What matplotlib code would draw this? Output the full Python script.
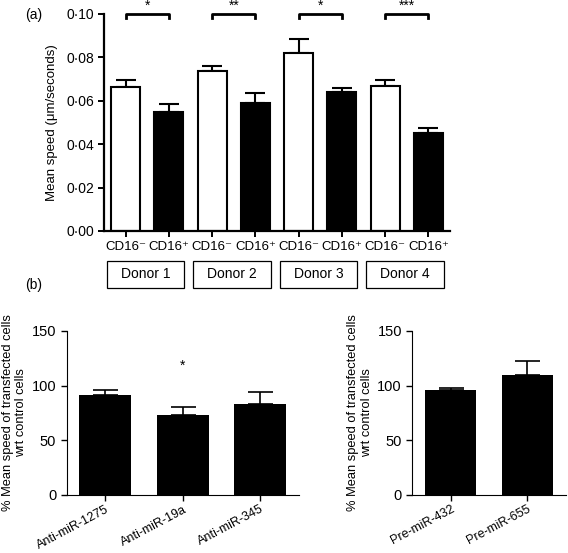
import numpy as np
import matplotlib
matplotlib.use("Agg")
import matplotlib.pyplot as plt
from matplotlib.patches import Rectangle
import matplotlib.transforms as mtransforms

plt.rcParams['font.family'] = ['Liberation Sans', 'DejaVu Sans']
plt.rcParams['font.size'] = 9

# panel (a): mean speed per donor, CD16- (white) / CD16+ (black)
donors = ["Donor 1", "Donor 2", "Donor 3", "Donor 4"]
cell_labels = ["CD16\u207b", "CD16\u207a"]
speed_neg = [0.0665, 0.0739, 0.0819, 0.0668]
err_neg = [0.0031, 0.0020, 0.0064, 0.0028]
speed_pos = [0.0550, 0.0591, 0.0642, 0.0453]
err_pos = [0.0037, 0.0045, 0.0018, 0.0020]
sig_a = ["*", "**", "*", "***"]

# panel (b): % mean speed of transfected cells
anti_names = ["Anti-miR-1275", "Anti-miR-19a", "Anti-miR-345"]
anti_vals = [91.3, 73.0, 83.1]
anti_err = [4.8, 7.3, 10.9]
anti_sig = ["", "*", ""]
pre_names = ["Pre-miR-432", "Pre-miR-655"]
pre_vals = [95.6, 109.6]
pre_err = [2.7, 13.0]

fig = plt.figure(figsize=(5.68, 5.53), dpi=100)

# ---- (a)
ax = fig.add_axes([0.1831, 0.5823, 0.6092, 0.3924])
x = np.arange(len(donors) * 2)
vals = [v for pair in zip(speed_neg, speed_pos) for v in pair]
errs = [e for pair in zip(err_neg, err_pos) for e in pair]
cols = ["white", "black"] * len(donors)
ax.bar(x, vals, width=0.67, color=cols, edgecolor="black", lw=1.5, zorder=2)
ax.errorbar(x, vals, yerr=[np.zeros(len(errs)), errs], fmt="none", ecolor="black",
            elinewidth=1.5, capsize=7, capthick=1.5, zorder=1)
ax.set_xlim(-0.5, 7.5)
ax.set_ylim(0, 0.10)
yt = np.arange(0, 0.101, 0.02)
ax.set_yticks(yt)
ax.set_yticklabels([f"{v:.2f}".replace(".", "\u00b7") for v in yt], fontsize=10)
ax.set_xticks(x)
ax.set_xticklabels(cell_labels * len(donors), fontsize=9.5)
ax.set_ylabel("Mean speed (\u03bcm/seconds)", fontsize=9.5, labelpad=6)
for s in ["top", "right"]:
    ax.spines[s].set_visible(False)
for s in ["left", "bottom"]:
    ax.spines[s].set_linewidth(1.6)
ax.tick_params(width=1.4, length=4, pad=3)

for i, st in enumerate(sig_a):
    x0, x1 = 2 * i, 2 * i + 1
    ax.plot([x0, x0, x1, x1], [0.0982, 0.10, 0.10, 0.0982], color="black", lw=2,
            clip_on=False)
    ax.text((x0 + x1) / 2, 0.1005, st, ha="center", va="bottom", fontsize=10,
            clip_on=False)

trans = mtransforms.blended_transform_factory(ax.transData, ax.transAxes)
for i, d in enumerate(donors):
    x0 = 2 * i - 0.44
    ax.add_patch(Rectangle((x0, -0.263), 1.8, 0.126, transform=trans,
                           facecolor="white", edgecolor="black", lw=0.9,
                           clip_on=False))
    ax.text(x0 + 0.9, -0.2, d, transform=trans, ha="center", va="center",
            fontsize=10)

fig.text(0.06, 0.973, "(a)", fontsize=10, ha="center", va="center")
fig.text(0.06, 0.485, "(b)", fontsize=10, ha="center", va="center")

ylab_b = "% Mean speed of transfected cells\nwrt control cells"

def panel_b(rect, names, v, e, sig=None):
    a = fig.add_axes(rect)
    xx = np.arange(len(names))
    a.bar(xx, v, width=0.67, color="black", zorder=2)
    a.errorbar(xx, v, yerr=[np.zeros(len(e)), e], fmt="none", ecolor="black",
               elinewidth=1.2, capsize=9, capthick=1.2, zorder=1)
    a.set_xlim(-0.5, len(names) - 0.5)
    a.set_ylim(0, 150)
    a.set_yticks([0, 50, 100, 150])
    a.set_xticks(xx)
    a.set_xticklabels(names, rotation=28, ha="right", rotation_mode="anchor",
                      fontsize=9)
    a.tick_params(axis="y", labelsize=10.5, width=1, length=4)
    a.tick_params(axis="x", width=1, length=4, pad=2)
    a.set_ylabel(ylab_b, fontsize=9.3, labelpad=3)
    for s in ["top", "right"]:
        a.spines[s].set_visible(False)
    if sig:
        for xi, st in zip(xx, sig):
            if st:
                a.text(xi, 112, st, ha="center", va="bottom", fontsize=10)
    return a

panel_b([0.1174, 0.1049, 0.409, 0.2966], anti_names, anti_vals, anti_err, anti_sig)
panel_b([0.7259, 0.1049, 0.270, 0.2966], pre_names, pre_vals, pre_err)

fig.savefig("out.png", dpi=100)
